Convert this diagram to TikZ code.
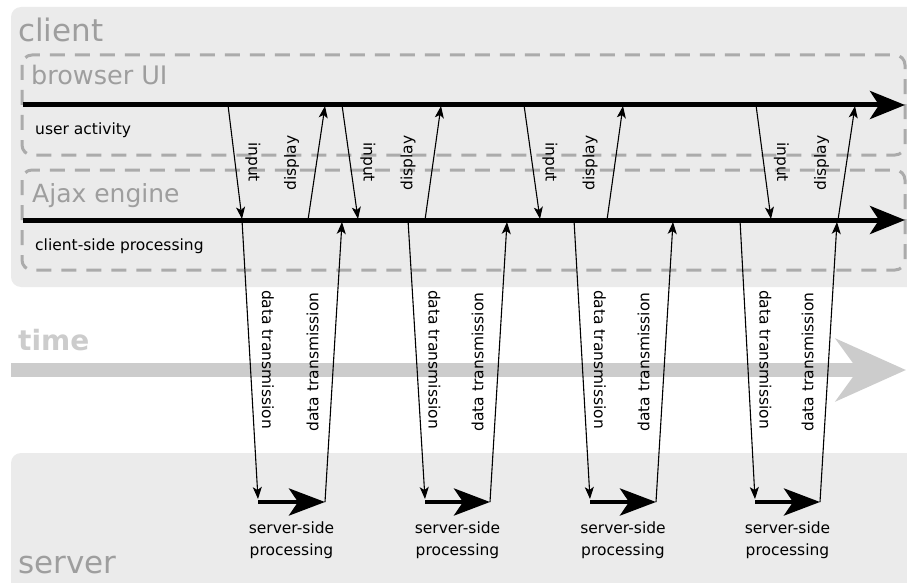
\documentclass[tikz,border=0pt]{standalone}
\usepackage{fontspec}
\setmainfont{DejaVu Sans}
\usetikzlibrary{arrows.meta}

\begin{document}
\begin{tikzpicture}[x=1pt,y=-1pt,
    zone/.style={fill=boxgray,rounded corners=10pt},
    lane/.style={draw=dashgray,line width=3pt,dash pattern=on 15pt off 10pt,rounded corners=10pt},
    title/.style={anchor=base west,inner sep=0pt,text=titlegray,font=\fontsize{31}{31}\selectfont},
    tag/.style={anchor=base west,inner sep=0pt,font=\fontsize{15.5}{22}\selectfont},
    timeline/.style={line width=5pt,-{Stealth[length=35pt,width=28pt,inset=9pt]}},
    work/.style={line width=4.5pt,-{Stealth[length=36pt,width=27pt,inset=9pt]}},
    msg/.style={line width=1.1pt,-{Stealth[length=12pt,width=9pt,inset=3pt]}},
    lbl/.style={midway,inner sep=0pt,font=\fontsize{15.5}{22}\selectfont}]
      \useasboundingbox (0,0) rectangle (907,583);
      \clip (0,0) rectangle (907,583);
      \colorlet{boxgray}{black!8}
      \colorlet{dashgray}{black!33}
      \colorlet{titlegray}{black!38}
      \colorlet{timegray}{black!20}
      \fill[zone] (11,7) rectangle (930,287);
      \fill[zone] (11,453) rectangle (930,600);
      \draw[lane] (22,55) rectangle (905,155);
      \draw[lane] (22,170) rectangle (905,270);
      \node[title] (client) at (18,42) {client};
      \node[title,font=\fontsize{25.5}{25.5}\selectfont] (browser) at (31,85) {browser UI};
      \node[title,font=\fontsize{25}{25}\selectfont] (ajax) at (32,202) {Ajax engine};
      \node[title,text=timegray,font=\bfseries\fontsize{28}{28}\selectfont] (time) at (18,350) {time};
      \node[title] (server) at (18,573) {server};
      \node[tag] (user) at (35,135) {user activity};
      \node[tag] (cside) at (35,250) {client-side processing};
      \coordinate (time-start) at (11,370);
      \coordinate (time-end) at (906,370);
      \draw[line width=14pt,color=timegray,-{Stealth[length=70pt,width=62pt,inset=22pt]}] (time-start) -- (time-end);
      \coordinate (ui-start) at (23,105);
      \coordinate (ui-end) at (905,105);
      \coordinate (eng-start) at (23,220);
      \coordinate (eng-end) at (905,220);
      \draw[timeline] (ui-start) -- (ui-end);
      \draw[timeline] (eng-start) -- (eng-end);
      \foreach \n/\ia/\ib/\da/\sa/\sb/\ub/\pa/\pb in
        {1/228/242/242/258/325/342/308/325,
         2/342/358/408/425/490/507/425/441,
         3/524/540/574/590/656/673/607/623,
         4/756/771/740/755/820/837/838/855}{
          \coordinate (in-top-\n) at (\ia,105);
          \coordinate (in-bot-\n) at (\ib,219);
          \coordinate (dn-top-\n) at (\da,220);
          \coordinate (dn-bot-\n) at (\sa,499);
          \coordinate (sv-start-\n) at (\sa,502);
          \coordinate (sv-end-\n) at (\sb,502);
          \coordinate (up-top-\n) at (\ub,222);
          \coordinate (dp-bot-\n) at (\pa,220);
          \coordinate (dp-top-\n) at (\pb,106);
          \draw[msg] (in-top-\n) -- node[lbl,xshift=18pt,rotate=-90] (input-\n) {input} (in-bot-\n);
          \draw[msg] (dp-bot-\n) -- node[lbl,xshift=-25pt,rotate=90] (display-\n) {display} (dp-top-\n);
          \draw[msg] (dn-top-\n) -- node[lbl,xshift=18pt,rotate=-90] (send-\n) {data transmission} (dn-bot-\n);
          \draw[work] (sv-start-\n) -- node[lbl,below=17pt,align=center] (proc-\n) {server-side\\processing} (sv-end-\n);
          \draw[msg] (sv-end-\n) -- node[lbl,xshift=-21pt,rotate=90] (reply-\n) {data transmission} (up-top-\n);
      }
\end{tikzpicture}
\end{document}
